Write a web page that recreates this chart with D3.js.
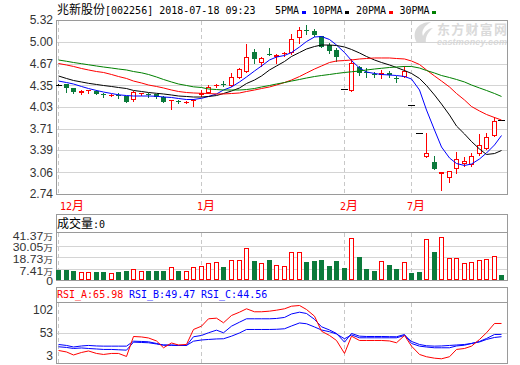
<!DOCTYPE html>
<html><head><meta charset="utf-8">
<script src="https://cdn.jsdelivr.net/npm/d3@7"></script>
<style>body{margin:0;background:#fff;} svg{display:block;} text{white-space:pre;}</style>
</head><body><svg id="c" width="520" height="365"></svg>
<script>
// ---------------- DATA ----------------
const dates = [
"2017-12-05","2017-12-06","2017-12-07","2017-12-08","2017-12-11","2017-12-12","2017-12-13","2017-12-14","2017-12-15","2017-12-18",
"2017-12-19","2017-12-20","2017-12-21","2017-12-22","2017-12-25","2017-12-26","2017-12-27","2017-12-28","2017-12-29",
"2018-01-02","2018-01-03","2018-01-04","2018-01-05","2018-01-08","2018-01-09","2018-01-10","2018-01-11","2018-01-12","2018-01-15",
"2018-01-16","2018-01-17","2018-01-18","2018-01-19","2018-01-22","2018-01-23","2018-01-24","2018-01-25","2018-01-26",
"2018-02-01","2018-02-02","2018-02-05","2018-02-06","2018-02-07","2018-02-08","2018-02-09","2018-02-12","2018-02-13",
"2018-07-02","2018-07-03","2018-07-04","2018-07-05","2018-07-06","2018-07-09","2018-07-10","2018-07-11","2018-07-12","2018-07-13",
"2018-07-16","2018-07-17","2018-07-18"];
const monthLabels = ["12月","1月","2月","7月"];

const open  = [4.356,4.371,4.312,4.233,4.267,4.267,4.223,4.204,4.208,4.193,4.129,4.223,4.218,4.223,4.183,4.115,4.119,4.097,4.115,4.204,
               4.242,4.337,4.364,4.346,4.456,4.554,4.841,4.678,4.811,4.776,4.831,4.826,5.049,5.172,5.161,5.083,4.945,4.875,4.292,4.272,
               4.619,4.554,4.524,4.500,4.530,4.456,4.470,4.060,3.649,3.284,3.219,3.036,2.973,3.106,3.185,3.170,3.329,3.403,3.600,3.837];
const close = [4.356,4.312,4.252,4.267,4.278,4.227,4.212,4.208,4.198,4.104,4.248,4.233,4.208,4.174,4.104,4.134,4.104,4.104,4.141,4.245,
               4.331,4.349,4.349,4.470,4.589,4.767,4.742,4.761,4.801,4.801,4.835,5.034,5.172,5.152,5.093,4.924,4.865,4.776,4.292,4.678,
               4.530,4.539,4.515,4.539,4.509,4.441,4.568,4.060,3.649,3.352,3.106,3.062,3.085,3.254,3.234,3.308,3.462,3.581,3.822,3.837];
const high  = [4.364,4.378,4.319,4.275,4.282,4.275,4.242,4.223,4.233,4.200,4.272,4.245,4.242,4.230,4.193,4.134,4.141,4.112,4.149,4.282,
               4.356,4.364,4.416,4.530,4.608,4.964,4.885,4.776,4.909,4.816,4.850,5.112,5.212,5.246,5.182,5.090,4.975,4.900,4.292,4.737,
               4.638,4.604,4.549,4.579,4.564,4.490,4.638,4.060,3.649,3.649,3.303,3.066,3.088,3.367,3.284,3.352,3.630,3.649,3.877,3.837];
const low   = [4.349,4.257,4.242,4.230,4.233,4.223,4.183,4.186,4.163,4.097,4.123,4.208,4.183,4.163,4.097,3.996,4.082,4.089,4.049,4.193,
               4.238,4.327,4.334,4.341,4.453,4.549,4.678,4.642,4.794,4.687,4.786,4.820,4.975,5.112,5.083,4.915,4.826,4.717,4.292,4.272,
               4.504,4.479,4.479,4.456,4.482,4.405,4.470,4.060,3.649,3.284,3.106,2.799,2.922,3.056,3.155,3.155,3.318,3.400,3.600,3.837];

// volume, unit: 万
const volume = [6.44,6.44,5.47,4.21,4.21,4.21,4.21,3.24,4.21,5.18,7.70,5.18,5.18,5.18,5.18,9.06,5.18,5.18,9.06,10.61,
                12.94,13.91,9.35,15.85,15.85,27.50,14.88,12.94,15.85,11.00,10.03,23.61,23.61,14.20,14.88,15.85,10.32,14.88,8.38,37.20,
                19.05,7.41,5.18,14.88,11.00,7.41,13.91,3.53,4.50,36.23,23.61,38.17,17.79,17.79,12.94,13.91,15.85,16.82,19.73,1.59];

const ma5  = [4.415,4.393,4.371,4.334,4.304,4.275,4.252,4.230,4.211,4.200,4.193,4.193,4.193,4.189,4.178,4.171,4.156,4.141,4.141,4.159,
              4.186,4.223,4.282,4.327,4.401,4.475,4.564,4.638,4.727,4.771,4.794,4.838,4.920,5.001,5.068,5.075,5.031,4.949,4.838,4.719,
              4.608,4.549,4.527,4.512,4.504,4.497,4.482,4.445,4.282,3.985,3.689,3.437,3.274,3.192,3.163,3.185,3.259,3.348,3.467,3.607];
const ma10 = [4.490,4.453,4.423,4.401,4.381,4.364,4.349,4.334,4.319,4.304,4.275,4.260,4.245,4.233,4.223,4.208,4.193,4.186,4.178,4.178,
              4.186,4.200,4.230,4.267,4.312,4.378,4.430,4.490,4.579,4.638,4.705,4.779,4.838,4.890,4.927,4.949,4.949,4.942,4.920,4.883,
              4.831,4.779,4.727,4.690,4.653,4.616,4.571,4.527,4.453,4.349,4.208,4.074,3.911,3.748,3.630,3.518,3.407,3.326,3.340,3.385];
const ma20 = [4.675,4.653,4.631,4.601,4.579,4.556,4.542,4.512,4.482,4.453,4.415,4.386,4.356,4.334,4.312,4.282,4.260,4.245,4.238,4.233,
              4.230,4.223,4.223,4.230,4.238,4.260,4.282,4.304,4.327,4.356,4.393,4.430,4.482,4.534,4.593,4.638,4.690,4.712,4.719,4.727,
              4.742,4.749,4.757,4.757,4.757,4.749,4.742,4.712,4.660,4.579,4.490,4.415,4.327,4.230,4.134,4.037,3.971,3.919,3.874,3.837];
const ma30 = [4.727,4.708,4.690,4.672,4.656,4.638,4.623,4.608,4.593,4.579,4.556,4.537,4.512,4.475,4.438,4.401,4.371,4.349,4.329,4.319,
              4.297,4.289,4.282,4.282,4.282,4.289,4.304,4.327,4.349,4.371,4.393,4.415,4.438,4.460,4.482,4.497,4.512,4.527,4.542,4.552,
              4.564,4.579,4.593,4.604,4.616,4.623,4.631,4.631,4.608,4.571,4.534,4.497,4.467,4.438,4.401,4.356,4.312,4.275,4.230,4.186];

const rsiA = [14.9,11.7,5.2,10.6,13.8,8.5,6.3,8.5,8.5,2.0,45.0,44.0,41.8,35.4,20.7,31.0,26.7,27.8,60.1,67.2,
              83.1,84.4,74.5,90.2,97.3,104.6,98.2,98.2,99.5,101.6,104.6,110.2,111.7,103.1,88.7,56.4,47.2,36.4,8.5,45.7,
              36.4,36.4,36.4,36.4,35.4,31.5,47.2,24.2,6.3,1.4,-1.7,-3.0,1.4,17.1,19.2,24.2,38.6,53.0,73.0,73.0];
const rsiB = [27.8,25.7,22.4,24.6,25.7,24.6,24.2,24.2,24.2,24.2,34.9,34.3,33.6,30.0,26.3,26.0,25.7,25.7,44.4,47.2,
              53.0,58.6,53.0,67.2,75.8,83.1,83.1,83.1,83.1,83.8,86.0,93.5,97.3,94.5,81.9,65.9,59.0,51.5,32.8,51.5,
              45.7,45.0,45.0,45.0,44.6,44.4,49.3,30.0,24.2,22.4,20.7,20.7,20.7,24.6,26.3,30.0,34.3,40.7,49.3,49.47];
const rsiC = [22.9,21.4,19.2,20.3,19.2,18.1,17.1,17.1,16.4,15.6,32.8,32.1,31.5,28.9,26.7,26.7,25.7,25.7,34.9,37.5,
              38.6,39.7,40.1,45.7,52.6,60.1,60.1,60.1,60.1,60.5,61.6,67.6,74.1,72.4,65.5,59.0,55.2,50.4,40.1,48.3,
              42.2,42.2,42.2,42.2,42.2,42.2,47.2,34.3,27.8,25.0,24.2,24.6,25.7,26.7,27.8,30.0,33.2,38.6,42.9,44.56];

const priceTicks = [5.32,5.00,4.67,4.35,4.03,3.71,3.39,3.06,2.74];
const volTicks = [41.37,30.05,18.73,7.41,0];
const rsiTicks = [102,53,3];
const rsiLast = {A:"65.98", B:"49.47", C:"44.56"};
const title = "兆新股份[002256] 2018-07-18 09:23";
const maNames = ["5PMA","10PMA","20PMA","30PMA"];

// ---------------- LAYOUT ----------------
const UP="#ff0000", DN="#0b7a3b", GRID="#d4d4d4", BORDER="#9a9a9a";
const L=56, R=508;
const M={top:20,bottom:194};
const V={top:214,head:232,bottom:280};
const S={top:287,head:302,bottom:363};

const svg = d3.select("#c");
const x = d3.scaleBand().domain(dates).range([54.55,505.05]);
const cx = d => Math.round(x(d)+x.bandwidth()/2);
const yP = d3.scaleLinear().domain([2.74,5.32]).range([M.bottom,M.top]);
const yV = d3.scaleLinear().domain([7.41,41.37]).range([269,234]);
const yR = d3.scaleLinear().domain([3,102]).range([356,310]);
const px = v => Math.round(v)+0.5;

const defs = svg.append("defs");
function clip(id,y0,y1){defs.append("clipPath").attr("id",id).append("rect").attr("x",L).attr("y",y0).attr("width",R-L).attr("height",y1-y0);}
clip("cm",M.top,M.bottom); clip("cv",V.head,V.bottom); clip("cr",S.head,S.bottom);

function mixed(t,str,latinFont,latinSize,cjkSize){
  const runs = str.match(/[\u3000-\u9fff\uff00-\uffef]+|[^\u3000-\u9fff\uff00-\uffef]+/g);
  runs.forEach(r=>{
    const cjk=/[\u3000-\u9fff\uff00-\uffef]/.test(r);
    t.append("tspan").text(r)
      .attr("font-family",cjk?"Noto Sans CJK SC":latinFont)
      .attr("font-size",cjk?cjkSize:latinSize);
  });
  return t;
}

// month starts
const monthIdx = dates.map((d,i)=> (i===0 || d.slice(5,7)!==dates[i-1].slice(5,7)) ? i : -1).filter(i=>i>=0);

// ---------------- HEADER ----------------
mixed(svg.append("text").attr("x",57).attr("y",14).attr("fill","#000"), title, "DejaVu Sans Mono",10,12);
const maColors=["#0000ff","#000000","#ff0000","#008000"];
let lx=275;
maNames.forEach((n,k)=>{
  svg.append("text").attr("x",lx).attr("y",14).attr("font-family","DejaVu Sans Mono").attr("font-size",10).attr("fill","#000").text(n);
  const rx=lx+n.length*6+2.5;
  svg.append("rect").attr("x",Math.round(rx)).attr("y",11).attr("width",4).attr("height",3).attr("fill",maColors[k]);
  lx=rx+11;
});

// watermark
const wm = svg.append("g").attr("fill","#dadada");
wm.append("path").attr("d","M417,43 C411,33 417,22 431,22 C424,26 421,31 423,36 C425,31 429,28 433,28 C428,32 425,37 426,43 Z");
wm.append("text").attr("x",437).attr("y",33.5).attr("font-family","Noto Sans CJK SC").attr("font-weight","bold").attr("font-size",13).attr("textLength",70).text("东方财富网");
wm.append("text").attr("x",437).attr("y",45).attr("font-family","Liberation Sans").attr("font-weight","bold").attr("font-style","italic").attr("font-size",9).attr("textLength",70).text("eastmoney.com");

// ---------------- MAIN PANEL ----------------
const gm = svg.append("g");
priceTicks.forEach(t=>{
  const yy=yP(t);
  if(t!==priceTicks[0] && t!==priceTicks[priceTicks.length-1])
    gm.append("line").attr("x1",L).attr("x2",R).attr("y1",px(yy)).attr("y2",px(yy)).attr("stroke",GRID);
  gm.append("text").attr("x",53).attr("y",yy).attr("dy","0.36em").attr("text-anchor","end")
    .attr("font-family","Liberation Sans").attr("font-size",12).attr("fill","#333").text(t.toFixed(2));
});
function vdash(g,y0,y1){
  monthIdx.forEach(i=>{
    g.append("line").attr("x1",cx(dates[i])+0.5).attr("x2",cx(dates[i])+0.5).attr("y1",y0).attr("y2",y1)
     .attr("stroke","#c8c8c8").attr("stroke-dasharray","4,3");
  });
}
vdash(gm,M.top+1,M.bottom);
gm.append("rect").attr("x",L+0.5).attr("y",M.top+0.5).attr("width",R-L-1).attr("height",M.bottom-M.top).attr("fill","none").attr("stroke",BORDER);

// month labels
monthIdx.forEach((i,k)=>{
  const xx=Math.max(cx(dates[i])-4,60);
  mixed(svg.append("text").attr("x",xx).attr("y",210).attr("fill","#ff0000"), monthLabels[k], "DejaVu Sans Mono",10,12);
});

const gc = gm.append("g").attr("clip-path","url(#cm)").attr("shape-rendering","crispEdges");
dates.forEach((d,i)=>{
  const c=cx(d), o=open[i], cl=close[i];
  const col = cl>o?UP:(cl<o?DN:"#000");
  if(high[i]>low[i])
    gc.append("line").attr("x1",c+0.5).attr("x2",c+0.5).attr("y1",Math.round(yP(high[i]))).attr("y2",Math.round(yP(low[i]))+1).attr("stroke",col);
  if(cl===o){
    gc.append("line").attr("x1",c-3).attr("x2",c+4).attr("y1",px(yP(o))).attr("y2",px(yP(o))).attr("stroke","#000");
  } else {
    const yt=Math.round(yP(Math.max(o,cl))), yb=Math.round(yP(Math.min(o,cl)));
    const h=Math.max(yb-yt,1);
    if(cl>o && h>=3){
      gc.append("rect").attr("x",c-2+0.5).attr("y",yt+0.5).attr("width",4).attr("height",h-1).attr("fill","#fff").attr("stroke",UP);
    } else {
      gc.append("rect").attr("x",c-2).attr("y",yt).attr("width",5).attr("height",h).attr("fill",col);
    }
  }
});
const gl = gm.append("g").attr("clip-path","url(#cm)");
[ma5,ma10,ma20,ma30].forEach((arr,k)=>{
  gl.append("path").datum(arr).attr("fill","none").attr("stroke",maColors[k]).attr("stroke-width",1)
    .attr("d",d3.line().x((v,i)=>cx(dates[i])+0.5).y(v=>yP(v)));
});

// ---------------- VOLUME PANEL ----------------
const gv = svg.append("g");
volTicks.forEach(t=>{
  const yy = t===0 ? V.bottom : yV(t);
  if(t!==0 && t!==volTicks[0])
    gv.append("line").attr("x1",L).attr("x2",R).attr("y1",px(yy)).attr("y2",px(yy)).attr("stroke",GRID);
  if(t===0){
    gv.append("text").attr("transform",`translate(53,${yy+1.5}) scale(1.22,1)`).attr("dy","0.36em").attr("text-anchor","end")
      .attr("font-family","Liberation Sans").attr("font-size",10).attr("fill","#333").text("0");
  } else {
    mixed(gv.append("text").attr("transform",`translate(53,${yy}) scale(1.22,1)`).attr("dy","0.36em").attr("text-anchor","end").attr("fill","#333"),
          t.toFixed(2)+"万","Liberation Sans",10,8);
  }
});
vdash(gv,V.head+1,V.bottom);
gv.append("rect").attr("x",L+0.5).attr("y",V.top+0.5).attr("width",R-L-1).attr("height",V.bottom-V.top).attr("fill","none").attr("stroke",BORDER);
gv.append("line").attr("x1",L).attr("x2",R).attr("y1",V.head+0.5).attr("y2",V.head+0.5).attr("stroke",BORDER);
mixed(gv.append("text").attr("x",57).attr("y",228).attr("fill","#000"),"成交量:0","DejaVu Sans Mono",10,12);
const gvb = gv.append("g").attr("clip-path","url(#cv)").attr("shape-rendering","crispEdges");
dates.forEach((d,i)=>{
  const c=cx(d), yt=Math.round(yV(volume[i]));
  if(close[i]>open[i]){
    gvb.append("rect").attr("x",c-2+0.5).attr("y",yt+0.5).attr("width",4).attr("height",V.bottom-yt-1).attr("fill","#fff").attr("stroke",UP);
  } else {
    gvb.append("rect").attr("x",c-2).attr("y",yt).attr("width",5).attr("height",V.bottom-yt).attr("fill",DN);
  }
});

// ---------------- RSI PANEL ----------------
const gr = svg.append("g");
rsiTicks.forEach(t=>{
  const yy=yR(t);
  if(t===53) gr.append("line").attr("x1",L).attr("x2",R).attr("y1",px(yy)).attr("y2",px(yy)).attr("stroke",GRID);
  gr.append("text").attr("x",53).attr("y",yy).attr("dy","0.36em").attr("text-anchor","end")
    .attr("font-family","Liberation Sans").attr("font-size",12).attr("fill","#333").text(t);
});
vdash(gr,S.head+1,S.bottom);
gr.append("rect").attr("x",L+0.5).attr("y",S.top+0.5).attr("width",R-L-1).attr("height",S.bottom-S.top).attr("fill","none").attr("stroke",BORDER);
gr.append("line").attr("x1",L).attr("x2",R).attr("y1",S.head+0.5).attr("y2",S.head+0.5).attr("stroke",BORDER);
[["RSI_A:"+rsiLast.A,"#ff0000",57],["RSI_B:"+rsiLast.B,"#0000ff",129],["RSI_C:"+rsiLast.C,"#0000ff",201]].forEach(([t,c,xx])=>{
  gr.append("text").attr("x",xx).attr("y",298).attr("font-family","DejaVu Sans Mono").attr("font-size",10).attr("fill",c).text(t);
});
const grl = gr.append("g").attr("clip-path","url(#cr)");
[[rsiC,"#0000ff"],[rsiB,"#0000ff"],[rsiA,"#ff0000"]].forEach(([arr,c])=>{
  grl.append("path").datum(arr).attr("fill","none").attr("stroke",c).attr("stroke-width",1)
    .attr("d",d3.line().x((v,i)=>cx(dates[i])+0.5).y(v=>yR(v)));
});
</script>
</body></html>
